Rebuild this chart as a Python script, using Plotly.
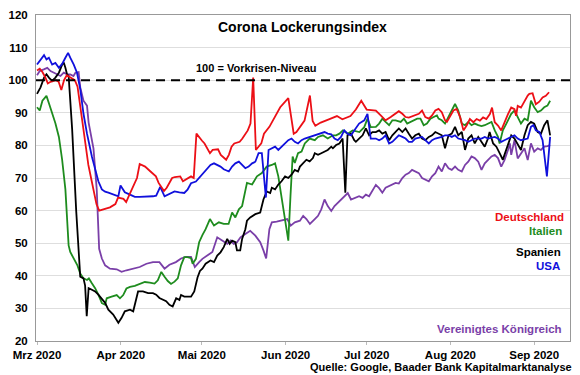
import pandas as pd
import plotly.graph_objects as go

START = pd.Timestamp("2020-03-01")

# Deutschland
days_de = [0,1,2,3,4,5,7,8,9,10,11,13,14,15,16,17,18,19,20,21,22,23,25,27,29,30,32,33,34,36,37,38,40,42,44,45,47,48,50,51,53,54,56,57,58,59,61,62,64,65,67,68,70,71,72,73,75,76,78,79,80,81,83,84,86,88,90,93,95,96,98,99,101,102,103,105,108,111,113,116,118,120,122,125.4,127.2,129,130.9,132.7,133.9,135.2,136.4,137.6,139.5,141.3,142.5,143.7,145,146.2,147.4,148.6,149.8,151,151.7,152.9,154.1,155.3,156.6,157.8,159,160.2,161.5,162.7,163.9,165.1,166.3,167.6,168.4,169.4,170.6,171.8,173,174.3,175.5,176.7,177.3,177.9,179.1,180.4,181.6,182.2,183.4,184.6,185.9,187.1,188.3,189.5]
vals_de = [103,103.5,102.5,101,99,99.5,100,99.5,97,100,101.5,100.5,100,98,92,86,80,74,70,66,62,60,60.5,61,62,64,63.6,62.6,64.5,68.5,70,74.3,73.5,72,70.5,68.5,66,67,70,70.3,70.5,69,70,70.5,70,83.6,81.5,80.6,77.6,78.6,78.8,77.1,75.6,77.1,79.6,80.6,81.1,82.1,84.6,86.7,100.8,78.6,80.6,83.6,85.7,88.7,91.7,94.5,83.6,84.1,86.6,87.6,95.3,87.5,86,87,88,89,88,89,91,93.7,91,90.7,89.2,87.7,88.7,89.7,90.5,89.7,88.7,88.5,89.2,89.7,90.7,88.7,88.2,89.2,90.7,91.2,90.2,87.7,87.2,89.2,90.7,91.2,88.7,84.6,86.1,88.1,87.1,88.1,87.6,88.6,88.1,89.6,91.6,87.1,86.1,84.6,87.1,89.6,91.6,91.1,89.1,92.1,91.6,93.7,95.3,95.8,96,92.6,93.4,94.7,95.2,96.3]

# Italien
days_it = [0,1,2,3.5,4.5,5.6,6.8,8.1,9.3,10.5,11.1,11.7,12.3,13.6,14.9,16,17.2,18.5,19.2,20.3,21.5,22.7,24,25.2,25.8,27.6,29.5,30.7,31.9,33.1,34.4,36.2,38,39.9,41.7,43.5,44.7,46,47.2,48.4,49.6,50.9,52.1,53.3,54.5,55.7,57,57.6,58.8,60,61.2,62.4,64,65.5,67.3,69.1,70.9,72.2,73.4,74.7,75.9,77.7,79.6,81.4,83.2,85,86.9,88.1,89.3,90.5,91.8,93,93.8,94.6,95.4,96.6,97.9,99.1,100.9,102.8,104,105.8,107.6,109.5,110.7,111.9,113.2,115,116.8,119.3,121.1,122.3,123.5,125.4,126.6,127.8,129,130.3,131.5,132.7,134.6,135.8,137,138.2,139.5,140.7,141.9,143.1,144.3,145.6,146.8,148,148.6,149.8,151,152.3,153.5,154.7,155.9,157.2,158.4,159.6,160.8,162,163.3,164.5,165.7,166.9,168.2,169.4,170.6,171.2,172.4,173.7,174.9,175.5,176.7,177.9,179.1,180.4,181.6,182.8,184,185.3,186.5,187.7,188.9,189.9]
vals_it = [91.7,90.7,93.7,95.2,92.7,89.8,86.8,82.6,75.6,66.5,57.4,49.3,47.3,45.3,43.3,40.7,39.2,38.7,39.2,37.7,36.2,34.2,31.6,31.1,33.1,33.6,34.1,33.1,34.1,36.1,36.6,36.9,37.6,38.1,37.9,37.6,38.6,41.2,39.7,38.4,37.5,38.2,39.2,43.2,45.7,45.7,45.4,43.7,45.2,50.3,52.5,54.3,57.4,55.4,56.4,55.9,55.9,59.4,57.9,60.4,61.4,68.5,68,70.5,71.5,73.5,74,74.5,70.5,64.4,57.4,50.8,64.4,76.6,74.6,77.6,78.1,80.6,82.1,81.6,82.6,83.1,82.1,83.1,83.1,83.6,84.6,83.6,84.6,84.1,85.6,88.2,85.6,85.7,86.7,88.2,87.2,86.2,87.7,87.7,87.2,88.2,86.7,87.2,87.7,88.2,88.2,86.2,86.7,88.2,88.7,89.2,88.2,87.7,86.7,88.7,90.7,92.7,90.7,86.7,86.2,87.2,86.2,86.7,86.2,85.9,86.2,86.7,87.2,84.6,82.6,80.6,84.6,86.7,88.7,89.7,90.7,88.7,86.7,88.2,87.7,93.7,91.7,90.2,90.7,91.7,92.2,93.7]

# Spanien
days_es = [0,1.3,2.6,3.5,4.4,5.6,6.8,8.1,9.3,9.9,10.5,11.1,11.7,13,14.5,16,17.2,17.8,18.4,19.1,20.3,21.5,22.7,24,25.2,26.4,28.2,30.1,31.3,32.5,34.4,35.6,37.4,39.2,41.1,42.9,44.1,45.3,46.6,47.8,49,50.2,51.5,52.7,53.3,54.5,55.7,57,58.2,59.4,60.3,61.2,62.4,64.2,65.5,66.7,67.9,69.1,70.4,71.3,72.2,73.4,74,75.2,75.9,77.1,77.7,78.9,80.8,82.6,83.8,85,86.3,86.9,88.1,89.3,90.5,91.8,93,94.2,95.4,96.6,97.3,98.5,99.7,100.9,102.1,102.8,104,105.2,106.4,107.6,108.9,109.5,110.7,111.9,113.1,114.1,114.9,116.2,117.4,118,119.2,120.5,121.7,122.9,124.1,125.4,126.6,127.8,129,130.3,131.5,132.7,133.9,135.2,136.4,137.6,138.8,140,141.3,142.5,143.7,145,146.2,147.4,148.6,149.8,151,152.3,153.5,154.7,155.9,157.2,158.4,159.6,160.8,162,163.3,164.5,165.7,166.9,167.5,168.8,170,171.2,172.4,173,174.3,175.5,176.7,177.9,179.1,180.4,181.6,182.8,184,185.3,186.5,187.7,188.9,189.9]
vals_es = [95.8,97.8,100.8,101.8,100.8,99.8,100.8,102.3,104.8,105.4,103.8,101.8,101.3,85,60,39.7,39.2,37,27.6,36.2,35.7,35.2,34.2,32.7,31.7,29.6,28.1,25.6,27.1,29.1,29.6,29.1,35.2,35.2,34.7,34.7,34.2,33.2,32.7,32.2,31.1,30.6,33.1,32.6,34.1,33.6,33.6,33.6,35.2,39.5,41.5,42.2,43.7,44.7,44.2,46.2,47.2,48.8,51.3,49.8,50.8,50.3,47.8,47.8,51.3,54.3,56.9,57.9,58.9,59.4,63.4,65.9,65.4,67,66.5,68,69,70.5,70,71,72.5,72,73.5,74.5,75.6,75.1,76.1,77.6,77.1,77.6,78.1,78.6,79.6,79.1,80.1,80.6,82.1,65.5,83.1,83.6,81.6,81.1,82.1,83.1,85.2,83.1,84.1,84.1,84.6,83.6,84.1,81.6,83.1,84.1,85.2,84.1,85.2,83.6,82.1,83.1,83.6,82.1,81.6,82.6,83.1,84.1,83.6,83.1,79.1,83.1,83.6,85.7,83.1,84.1,78.6,82.1,83.1,80.6,82.6,81.1,79.6,82.1,84.1,80.6,79.6,77.6,75.6,77.1,80.6,83.1,82.1,80.1,78.6,83.1,86.2,87.2,86.7,84.1,83.6,86.2,87.7,83.1]

# USA
days_us = [0,1.3,2.6,3.5,4.4,5.6,6.8,8.1,9.3,10.5,11.5,12.3,13.6,14.8,16,17.2,18.5,20.3,21.5,22.7,24,25.2,26.4,28.2,30.1,30.9,32.5,34.4,36.2,38,40.5,42.9,44.1,45.6,47.2,49,50.9,52.7,54.5,55.7,57,58.8,59.4,60.6,62.4,64.2,65.5,66.7,67.9,69.1,71,72.2,73.4,74.7,75.9,77.1,78.3,79.6,80.8,82,83.2,84.7,85.7,86.9,88.1,89.3,90.5,91.8,93,94.2,95.4,96.6,97.9,99.1,101,102.8,104.6,106.4,107.6,108.9,110.1,111.3,112.5,113.7,114.9,116.2,117.4,119.2,121.1,122.3,123.5,125.4,126.6,127.8,129,130.3,131.5,132.7,133.9,135.2,136.4,137.6,138.8,140,142.5,143.7,145,146.2,147.4,149.8,151,152.3,153.5,154.7,155.9,158.4,159.6,160.8,162,164.5,165.7,166.9,169.4,170.6,171.8,173,174.3,176.7,177.9,179.1,181.6,182.8,183.7,184.6,185.9,187.1,188.7,189.9]
vals_us = [104.8,106.4,107.7,106.4,106.9,104.8,105.3,103.8,105,106.9,108.4,106.9,104.8,102.3,97.3,89.7,83.6,76.6,72.5,69,66.5,65.8,65.5,65,64.4,67.7,65.6,64.9,64.2,64.2,64.2,64.4,64.6,67.3,64.4,65.1,65.9,65.6,65.4,66.4,68.4,68.9,69.5,70.5,72.5,74,74.5,74,73.5,72.7,72,73.5,74.5,75,74,73,73.5,74.5,75,77.6,77.6,64,78.6,79.1,79.6,78.6,79.6,80.6,81.6,82.1,81.1,80.6,81.6,82.1,82.6,83.1,83.4,84.1,83.6,83.4,82.1,81.6,82.6,84.6,83.6,83.1,84.6,86.7,87.7,89.7,82.1,82.1,81.6,82.1,83.1,80.6,81.1,82.1,83.1,82.6,82.1,81.1,81.1,82.1,82.6,81.6,80.6,81.6,82.1,82.6,83.1,83.1,82.6,83.1,82.1,81.6,81.1,81.6,82.1,82.1,82.6,82.1,82.6,82.1,81.1,81.6,82.1,83.1,82.1,81.6,82.1,85.7,86.2,84.6,84.1,81.6,70.5,82.6]

# Vereinigtes Königreich
days_uk = [0,1,2.5,3.8,5,6.2,7.5,8.7,9.9,11.1,12.3,13.5,14.2,15.4,16,17.2,18.5,19.1,20.9,22.1,23,24,25.2,27,29.5,31.3,33.1,35.6,38,40.5,42.9,45.3,47.2,49,51.4,53.3,55.1,57,58.4,60,61.2,63,64.9,66.7,68.5,70.4,71.6,72.8,74,75.3,77.1,78.9,80.8,82.6,83.8,84.8,86,86.9,88.7,90.5,92.6,93.9,95.4,97.3,98.5,99.7,101,102.8,104,105.2,106.4,107.6,108.9,110.1,111.3,112.5,113.7,115,116.2,117.4,119.2,120.5,121.7,122.9,124.1,125.4,126.6,127.8,129,130.3,131.5,132.7,133.9,135.2,136.4,137.6,138.8,140,141.3,142.5,143.7,145,146.2,147.4,148.6,149.8,151,152.3,153.5,154.7,155.9,157.2,158.4,159.6,160.8,162,163.3,164.5,165.7,166.9,168.2,169.4,170.6,171.8,173,174.3,175,175.5,176.1,176.7,177.9,179.1,180.4,181.6,182.8,184,185.3,186.5,187.7,188.9,189.9]
vals_uk = [101.5,102.8,103.3,103.8,102.8,102.3,101.8,101.3,102.3,101.8,101.8,101.3,102.3,102.5,97.8,93.7,92.2,87,79,66.5,48.3,45.3,43.2,42.2,42,41.2,41.7,42.2,42.7,43.7,44.2,44.2,42.2,43.4,44.2,45.3,45.8,45.8,42.7,44.2,45.2,46.2,47.3,51.8,50.8,49.8,50.8,49.8,50.3,51.8,52.8,53.8,52.3,50.3,47.8,45.3,54.3,56.4,56.6,56.9,57.4,55.4,56.4,56.9,58.4,57.4,55.9,57.4,58.4,60.4,63.4,61.4,59.9,61.4,62.4,63.4,64.4,65.4,63.4,63.9,64.4,63.9,64.9,64.4,65.9,67.9,66.9,65.5,67,67.5,68,68.5,68.3,70,71,71.5,72.5,72,71.5,70,69.5,69,70.5,71.5,73.5,72,74.5,73,72.5,73.5,72.5,72,74,75,76.6,76.1,75,72.5,74.5,75.5,76.6,77.1,76.1,73.5,75.5,78.6,80.6,77.1,80,81.6,76,77.6,79.1,75.5,80.6,78.1,79.1,78.6,79.6,79.8,80.1]

series_names = ["Deutschland", "Italien", "Spanien", "USA", "Vereinigtes Königreich"]
series_days = [days_de, days_it, days_es, days_us, days_uk]
series_vals = [vals_de, vals_it, vals_es, vals_us, vals_uk]
series_colors = ["#ec0f16", "#1e8c1e", "#000000", "#1010dc", "#7a3fa8"]

month_ticks = ["2020-03-01", "2020-04-01", "2020-05-01", "2020-06-01",
               "2020-07-01", "2020-08-01", "2020-09-01"]
month_labels = ["Mrz 2020", "Apr 2020", "Mai 2020", "Jun 2020",
                "Jul 2020", "Aug 2020", "Sep 2020"]
y_ticks = [20, 30, 40, 50, 60, 70, 80, 90, 100, 110, 120]

FONT = "Liberation Sans, Arial, sans-serif"

fig = go.Figure()
draw_order = [4, 1, 2, 3, 0]
for i in draw_order:
    d, v = series_days[i], series_vals[i]
    assert len(d) == len(v), series_names[i]
    x = [START + pd.Timedelta(days=float(k)) for k in d]
    fig.add_trace(go.Scatter(x=x, y=v, mode="lines", name=series_names[i],
                             line=dict(color=series_colors[i], width=1.8),
                             showlegend=False))

fig.add_shape(type="line", xref="paper", yref="y", x0=0, x1=1, y0=100, y1=100,
              line=dict(color="black", width=2, dash="9px,6px"))

fig.update_layout(
    width=580, height=375,
    margin=dict(l=32, r=9, t=10, b=34),
    paper_bgcolor="white", plot_bgcolor="white",
    font=dict(family=FONT, size=11, color="black"),
    xaxis=dict(
        type="date",
        range=["2020-02-29 15:00", "2020-09-14 06:00"],
        tickvals=month_ticks, ticktext=["<b>%s</b>" % t for t in month_labels],
        ticks="outside", ticklen=3, tickcolor="#bbbbbb",
        showgrid=False, showline=True, linecolor="#999999", mirror=True,
        tickfont=dict(size=11.5), zeroline=False,
    ),
    yaxis=dict(
        range=[20, 120], tickvals=y_ticks,
        ticktext=["<b>%d</b>" % t for t in y_ticks],
        showgrid=True, gridcolor="#dedede", gridwidth=1,
        ticks="outside", ticklen=5, tickcolor="rgba(0,0,0,0)",
        showline=True, linecolor="#999999", mirror=True,
        tickfont=dict(size=11.5), zeroline=False,
    ),
)

def px_to_paper(px, py):
    return (px - 32) / 539.0, (341 - py) / 331.0

ann = []
x, y = px_to_paper(301, 22.5)
ann.append(dict(text="<b>Corona Lockerungsindex</b>", x=x, y=y, xanchor="center",
                yanchor="middle", font=dict(size=14)))
x, y = px_to_paper(255, 63.5)
ann.append(dict(text="<b>100 = Vorkrisen-Niveau</b>", x=x, y=y, xanchor="center",
                yanchor="middle", font=dict(size=11)))
legend_pos = [(567, 215.5), (565, 229.5), (564, 251), (563, 265), (565, 329)]
for name, col, (px, py) in zip(series_names, series_colors, legend_pos):
    x, y = px_to_paper(px, py)
    ann.append(dict(text="<b>%s</b>" % name, x=x, y=y, xanchor="right",
                    yanchor="middle", font=dict(size=11.5, color=col)))
x, y = px_to_paper(575, 367)
ann.append(dict(text="<b>Quelle: Google, Baader Bank Kapitalmarktanalyse</b>",
                x=x, y=y, xanchor="right", yanchor="middle", font=dict(size=11)))
for a in ann:
    a.update(xref="paper", yref="paper", showarrow=False)
fig.update_layout(annotations=ann)

fig.write_html("out.html", config={"displayModeBar": False},
               post_script="document.body.style.margin='0';document.body.style.padding='0';")
